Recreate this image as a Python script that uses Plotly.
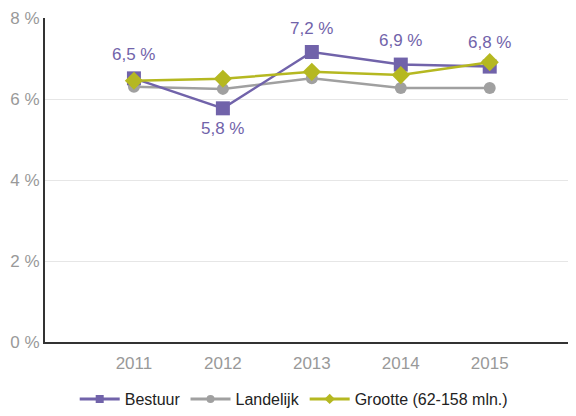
import plotly.graph_objects as go

years = ["2011", "2012", "2013", "2014", "2015"]
bestuur = [6.51, 5.77, 7.16, 6.85, 6.80]
bestuur_labels = ["6,5 %", "5,8 %", "7,2 %", "6,9 %", "6,8 %"]
label_above = [True, False, True, True, True]
landelijk = [6.30, 6.25, 6.51, 6.27, 6.27]
grootte = [6.45, 6.50, 6.67, 6.59, 6.91]
y_ticks = [0, 2, 4, 6, 8]
y_ticktext = ["0 %", "2 %", "4 %", "6 %", "8 %"]

purple = "#7163AA"
gray = "#A0A0A0"
green = "#B5B821"
FONT = "Liberation Sans, Arial, sans-serif"

fig = go.Figure()

fig.add_trace(go.Scatter(
    x=years, y=landelijk, mode="lines+markers", name="Landelijk",
    line=dict(color=gray, width=2.5),
    marker=dict(symbol="circle", size=12, color=gray),
    showlegend=False,
))
fig.add_trace(go.Scatter(
    x=years, y=bestuur, mode="lines+markers", name="Bestuur",
    line=dict(color=purple, width=2.5),
    marker=dict(symbol="square", size=14, color=purple),
    showlegend=False,
))
fig.add_trace(go.Scatter(
    x=years, y=grootte, mode="lines+markers", name="Grootte (62-158 mln.)",
    line=dict(color=green, width=2.5),
    marker=dict(symbol="diamond", size=14, color=green),
    showlegend=False,
))

for i, (y, t, above) in enumerate(zip(bestuur, bestuur_labels, label_above)):
    fig.add_annotation(
        x=i, y=y, xref="x", yref="y", text=t, showarrow=False,
        yshift=24 if above else -20,
        font=dict(color=purple, size=17, family=FONT),
    )

# legend entries with small markers
for name, color, sym in [("Bestuur", purple, "square"), ("Landelijk", gray, "circle"),
                         ("Grootte (62-158 mln.)", green, "diamond")]:
    fig.add_trace(go.Scatter(
        x=[None], y=[None], mode="lines+markers", name=name,
        line=dict(color=color, width=3),
        marker=dict(symbol=sym, size=8, color=color),
    ))

# page body has an 8px default margin; size the figure to fill the window
fig.update_layout(
    width=568, height=408,
    margin=dict(l=37, r=0, t=10, b=74, autoexpand=False),
    paper_bgcolor="white", plot_bgcolor="white",
    font=dict(family=FONT, size=16, color="#999999"),
    xaxis=dict(
        type="category", range=[-1, 4.97], automargin=False,
        showgrid=False, showline=True, linecolor="#333333", linewidth=2,
        ticks="", tickfont=dict(size=17, color="#999999"),
        ticklabelstandoff=5, fixedrange=True,
    ),
    yaxis=dict(
        range=[0, 8], tickvals=y_ticks, ticktext=y_ticktext, automargin=False,
        showgrid=True, gridcolor="#E6E6E6", gridwidth=1,
        showline=True, linecolor="#333333", linewidth=2,
        zeroline=False, ticks="", tickfont=dict(size=17, color="#999999"),
        ticklabelstandoff=0,
    ),
    legend=dict(
        orientation="h", xref="container", yref="container",
        x=0.503, xanchor="center", y=0.0, yanchor="bottom",
        font=dict(size=16, color="#222222"),
        itemwidth=40, tracegroupgap=0,
    ),
)

fig.write_html("out.html")
